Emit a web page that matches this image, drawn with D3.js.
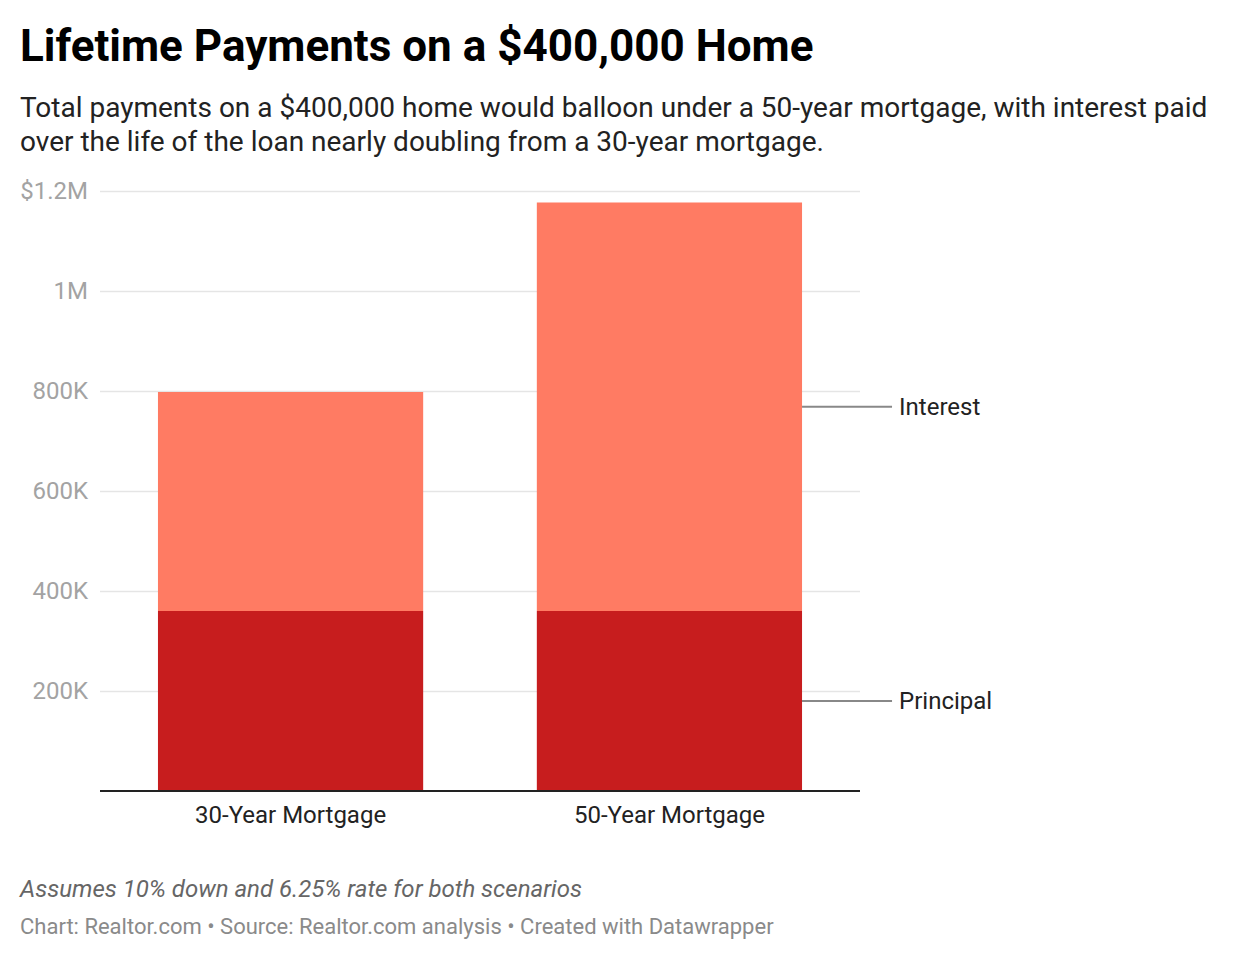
<!DOCTYPE html>
<html>
<head>
<meta charset="utf-8">
<script src="https://cdn.jsdelivr.net/npm/d3@7"></script>
<style>
  body { margin: 0; background: #fff; font-family: Roboto, "Noto Sans", sans-serif; }
  #chart { width: 1240px; height: 960px; }
</style>
</head>
<body>
<div id="chart"></div>
<script>
const categories = ['30-Year Mortgage', '50-Year Mortgage'];
const principal = [360000, 360000];
const interest = [438000, 817000];
const seriesNames = ['Principal', 'Interest'];
const yTicks = [200000, 400000, 600000, 800000, 1000000, 1200000];
const yTickLabels = ['200K', '400K', '600K', '800K', '1M', '$1.2M'];

const COLORS = { principal: '#c71d1e', interest: '#ff7b63', grid: '#e5e5e5', tick: '#a3a3a3' };

const width = 1240, height = 960;
const svg = d3.select('#chart').append('svg')
    .attr('width', width).attr('height', height)
    .attr('viewBox', `0 0 ${width} ${height}`);

// Header
svg.append('text').attr('x', 20).attr('y', 61)
    .attr('font-size', 44).attr('font-weight', 700).attr('fill', '#000')
    .text('Lifetime Payments on a $400,000 Home');
const sub = svg.append('text').attr('x', 20).attr('font-size', 28).attr('fill', '#222');
sub.append('tspan').attr('x', 20).attr('y', 117)
    .text('Total payments on a $400,000 home would balloon under a 50-year mortgage, with interest paid');
sub.append('tspan').attr('x', 20).attr('y', 151)
    .text('over the life of the loan nearly doubling from a 30-year mortgage.');

// Plot area
const plot = { left: 100, right: 860, top: 191, bottom: 791 };
const x = d3.scaleBand().domain(categories).range([plot.left, plot.right]).paddingInner(0.3).paddingOuter(0.153);
const y = d3.scaleLinear().domain([0, 1200000]).range([plot.bottom, plot.top]);

const rows = categories.map((c, i) => ({ cat: c, Principal: principal[i], Interest: interest[i] }));
const stacked = d3.stack().keys(seriesNames)(rows);

// Gridlines
svg.append('g')
    .attr('transform', `translate(${plot.left},0)`)
    .call(d3.axisLeft(y).tickValues(yTicks).tickSize(-(plot.right - plot.left)).tickFormat(''))
    .call((sel) => sel.select('.domain').remove())
    .call((sel) => sel.selectAll('line').attr('stroke', COLORS.grid).attr('stroke-width', 1.5));

// Y labels
svg.append('g')
    .attr('transform', `translate(${plot.left},0)`)
    .call(d3.axisLeft(y).tickValues(yTicks).tickSize(0).tickPadding(12)
        .tickFormat((d, i) => yTickLabels[i]))
    .call((sel) => sel.select('.domain').remove())
    .call((sel) => sel.selectAll('text')
        .attr('font-family', 'Roboto, sans-serif').attr('font-size', 24)
        .attr('fill', COLORS.tick).attr('dy', '0.32em'));

// Bars
const colorOf = { Principal: COLORS.principal, Interest: COLORS.interest };
svg.append('g').selectAll('g').data(stacked).join('g')
    .attr('fill', (s) => colorOf[s.key])
    .selectAll('rect').data((s) => s).join('rect')
    .attr('x', (d) => x(d.data.cat))
    .attr('width', x.bandwidth())
    .attr('y', (d) => y(d[1]))
    .attr('height', (d) => y(d[0]) - y(d[1]));

// Baseline + category labels
svg.append('g')
    .attr('transform', `translate(0,${plot.bottom})`)
    .call(d3.axisBottom(x).tickSize(0).tickPadding(15))
    .call((sel) => sel.select('.domain').attr('stroke', '#222').attr('stroke-width', 2)
        .attr('d', `M${plot.left},0H${plot.right}`))
    .call((sel) => sel.selectAll('text')
        .attr('font-family', 'Roboto, sans-serif').attr('font-size', 24).attr('fill', '#222'));

// Direct labels for series, attached to last bar
const lastCat = categories[categories.length - 1];
const barRight = x(lastCat) + x.bandwidth();
stacked.forEach((s) => {
    const d = s[s.length - 1];
    const ym = y((d[0] + d[1]) / 2);
    svg.append('line')
        .attr('x1', barRight).attr('x2', barRight + 90)
        .attr('y1', ym).attr('y2', ym)
        .attr('stroke', '#888').attr('stroke-width', 2);
    svg.append('text')
        .attr('x', barRight + 97).attr('y', ym).attr('dy', '0.35em')
        .attr('font-size', 24).attr('fill', '#222')
        .text(s.key);
});

// Notes
svg.append('text').attr('x', 20).attr('y', 897)
    .attr('font-size', 24).attr('font-style', 'italic').attr('fill', '#666')
    .text('Assumes 10% down and 6.25% rate for both scenarios');
svg.append('text').attr('x', 20).attr('y', 934)
    .attr('font-size', 22).attr('fill', '#8a8a8a')
    .text('Chart: Realtor.com • Source: Realtor.com analysis • Created with Datawrapper');
</script>
</body>
</html>
